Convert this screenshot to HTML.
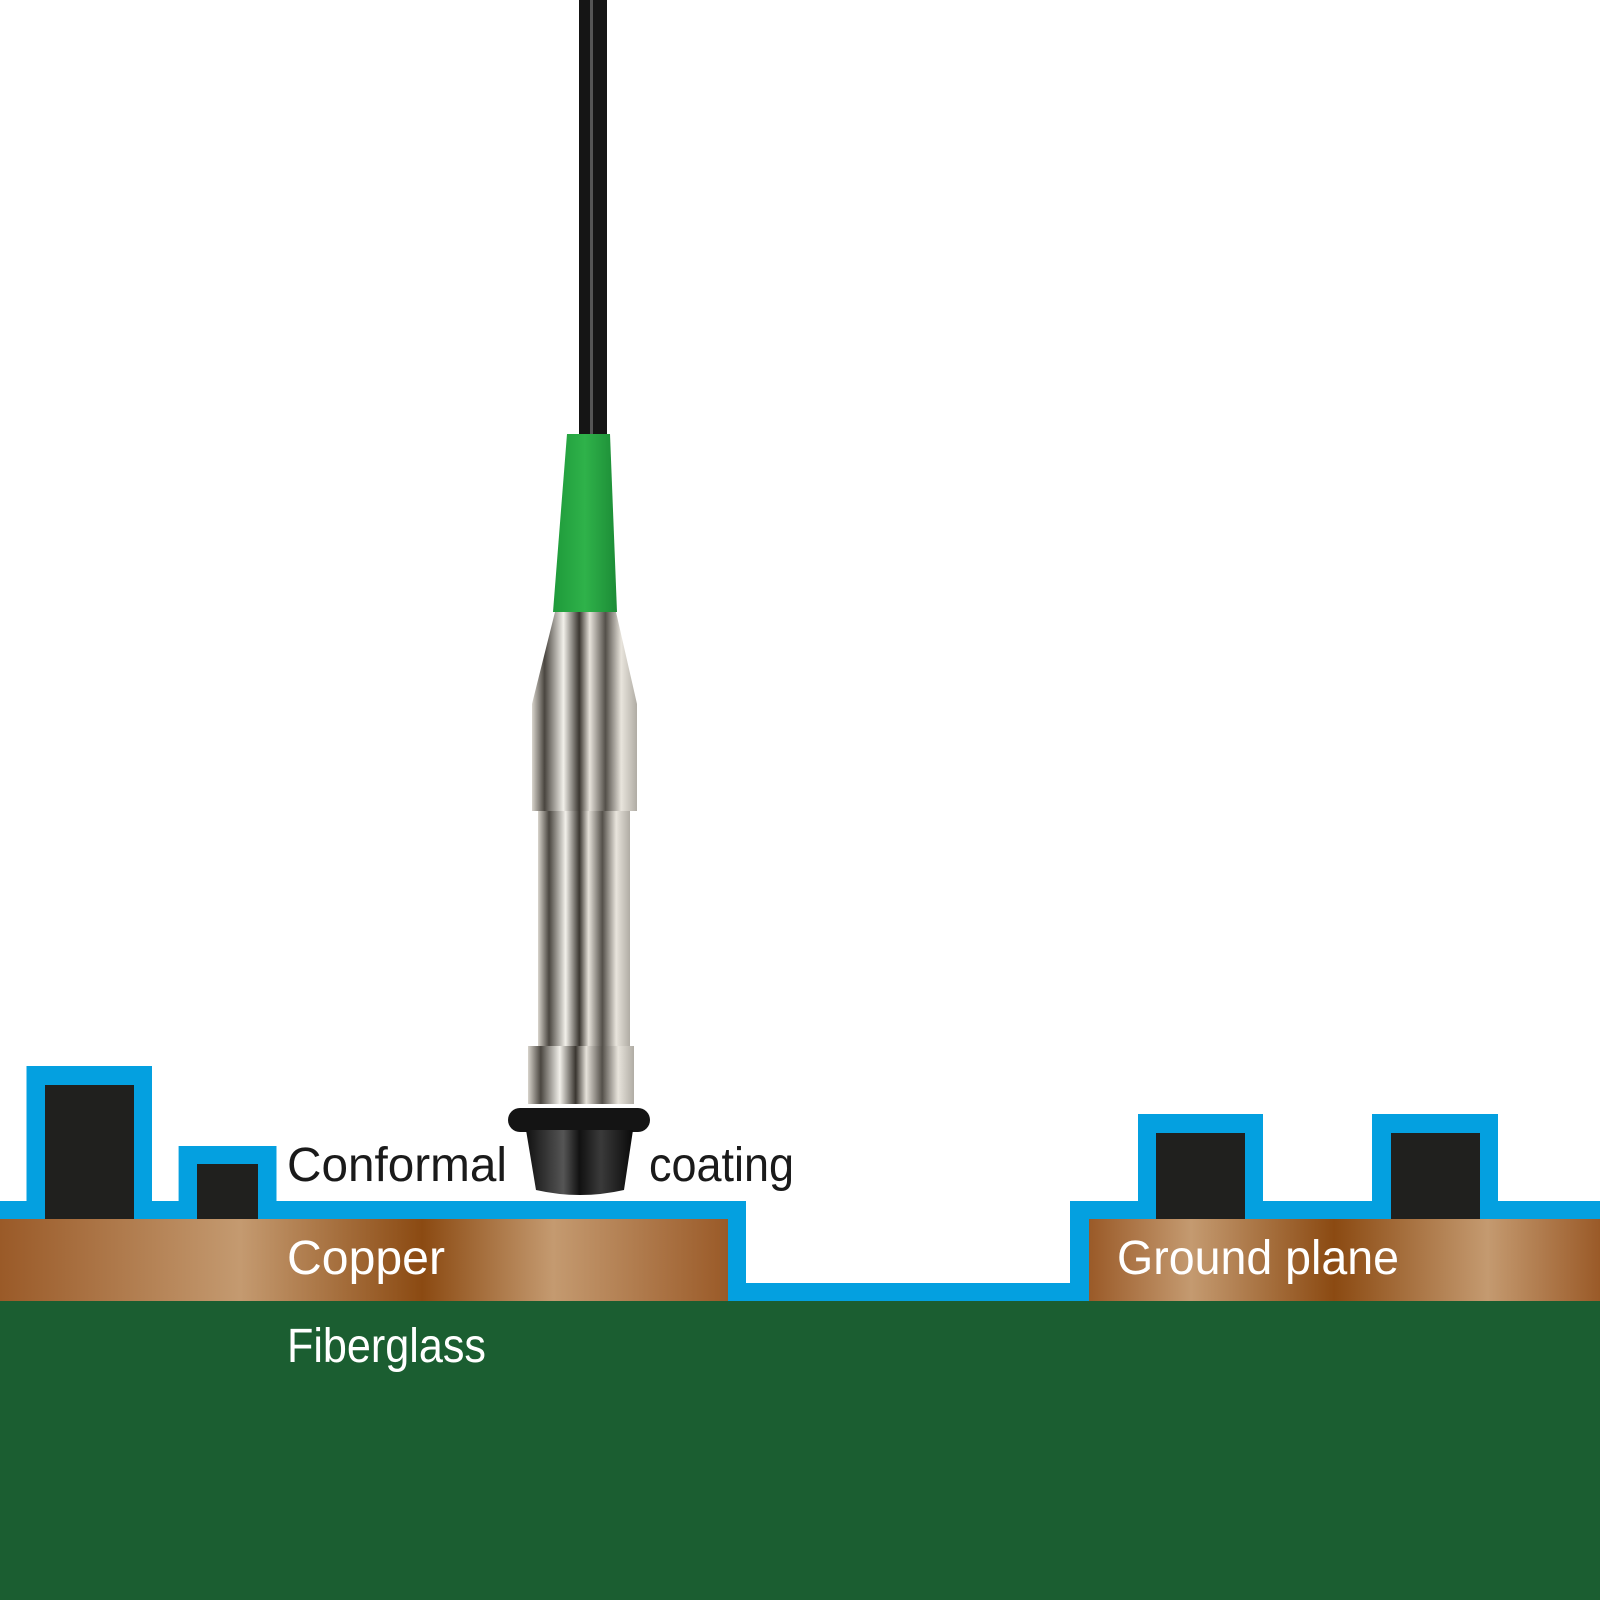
<!DOCTYPE html>
<html><head><meta charset="utf-8"><style>
html,body{margin:0;padding:0;background:#fff;width:1600px;height:1600px;overflow:hidden}
svg{display:block}
text{font-family:"Liberation Sans",sans-serif;font-size:48px}
</style></head><body>
<svg width="1600" height="1600" viewBox="0 0 1600 1600" xmlns="http://www.w3.org/2000/svg">
<defs>
<linearGradient id="cu1" x1="0" x2="728" y1="0" y2="0" gradientUnits="userSpaceOnUse">
<stop offset="0" stop-color="#9a5a28"/><stop offset="0.33" stop-color="#c49a70"/><stop offset="0.58" stop-color="#8b4a12"/><stop offset="0.76" stop-color="#c49a70"/><stop offset="1" stop-color="#9a5a28"/>
</linearGradient>
<linearGradient id="cu2" x1="1089" x2="1600" y1="0" y2="0" gradientUnits="userSpaceOnUse">
<stop offset="0" stop-color="#9a5a28"/><stop offset="0.2" stop-color="#c49a70"/><stop offset="0.48" stop-color="#8b4a12"/><stop offset="0.78" stop-color="#c49a70"/><stop offset="1" stop-color="#9a5a28"/>
</linearGradient>
<linearGradient id="metal" x1="0" x2="1" y1="0" y2="0">
<stop offset="0" stop-color="#d8d4cc"/><stop offset="0.12" stop-color="#4a4640"/><stop offset="0.3" stop-color="#f2f0ea"/><stop offset="0.45" stop-color="#3a3630"/><stop offset="0.55" stop-color="#e6e2da"/><stop offset="0.7" stop-color="#54504a"/><stop offset="0.85" stop-color="#e8e4dc"/><stop offset="1" stop-color="#b0aca4"/>
</linearGradient>
<linearGradient id="green" x1="0" x2="1"><stop offset="0" stop-color="#1e9a3a"/><stop offset="0.5" stop-color="#2fb24a"/><stop offset="1" stop-color="#1c8c36"/></linearGradient>
<linearGradient id="blk" x1="0" x2="1"><stop offset="0" stop-color="#111"/><stop offset="0.35" stop-color="#555"/><stop offset="0.5" stop-color="#111"/><stop offset="0.7" stop-color="#3a3a3a"/><stop offset="1" stop-color="#0a0a0a"/></linearGradient>
</defs>
<path fill="#04a0e0" d="M0 1201 H26.5 V1066 H152 V1201 H178.6 V1146 H276.5 V1201 H746 V1283 H1070 V1201 H1138 V1114 H1263 V1201 H1372 V1114 H1498 V1201 H1600 V1301 H0 Z"/>
<rect x="0" y="1219" width="728" height="82" fill="url(#cu1)"/>
<rect x="1089" y="1219" width="511" height="82" fill="url(#cu2)"/>
<rect x="0" y="1301" width="1600" height="299" fill="#1b5e31"/>
<rect x="45" y="1085" width="89" height="134" fill="#20201e"/>
<rect x="197" y="1164" width="61" height="55" fill="#20201e"/>
<rect x="1156" y="1133" width="89" height="86" fill="#20201e"/>
<rect x="1391" y="1133" width="89" height="86" fill="#20201e"/>
<rect x="579" y="0" width="28" height="440" fill="#151515"/>
<rect x="590" y="0" width="3" height="440" fill="#555"/>
<path d="M567 434 H610 L617 612 H553 Z" fill="url(#green)"/>
<path d="M555 612 H616 L637 704 V811 H532 V704 Z" fill="url(#metal)"/>
<rect x="538" y="811" width="92" height="236" fill="url(#metal)"/>
<rect x="528" y="1046" width="106" height="58" fill="url(#metal)"/>
<rect x="508" y="1108" width="142" height="24" rx="12" fill="#141414"/>
<path d="M526 1130 H633 L624 1190 Q580 1200 536 1190 Z" fill="url(#blk)"/>
<text x="287" y="1181" fill="#1a1a1a" textLength="220" lengthAdjust="spacingAndGlyphs">Conformal</text>
<text x="649" y="1181" fill="#1a1a1a" textLength="145" lengthAdjust="spacingAndGlyphs">coating</text>
<text x="287" y="1274" fill="#fff" textLength="158" lengthAdjust="spacingAndGlyphs">Copper</text>
<text x="1117" y="1274" fill="#fff" textLength="282" lengthAdjust="spacingAndGlyphs">Ground plane</text>
<text x="287" y="1362" fill="#fff" textLength="199" lengthAdjust="spacingAndGlyphs">Fiberglass</text>
</svg>
</body></html>
